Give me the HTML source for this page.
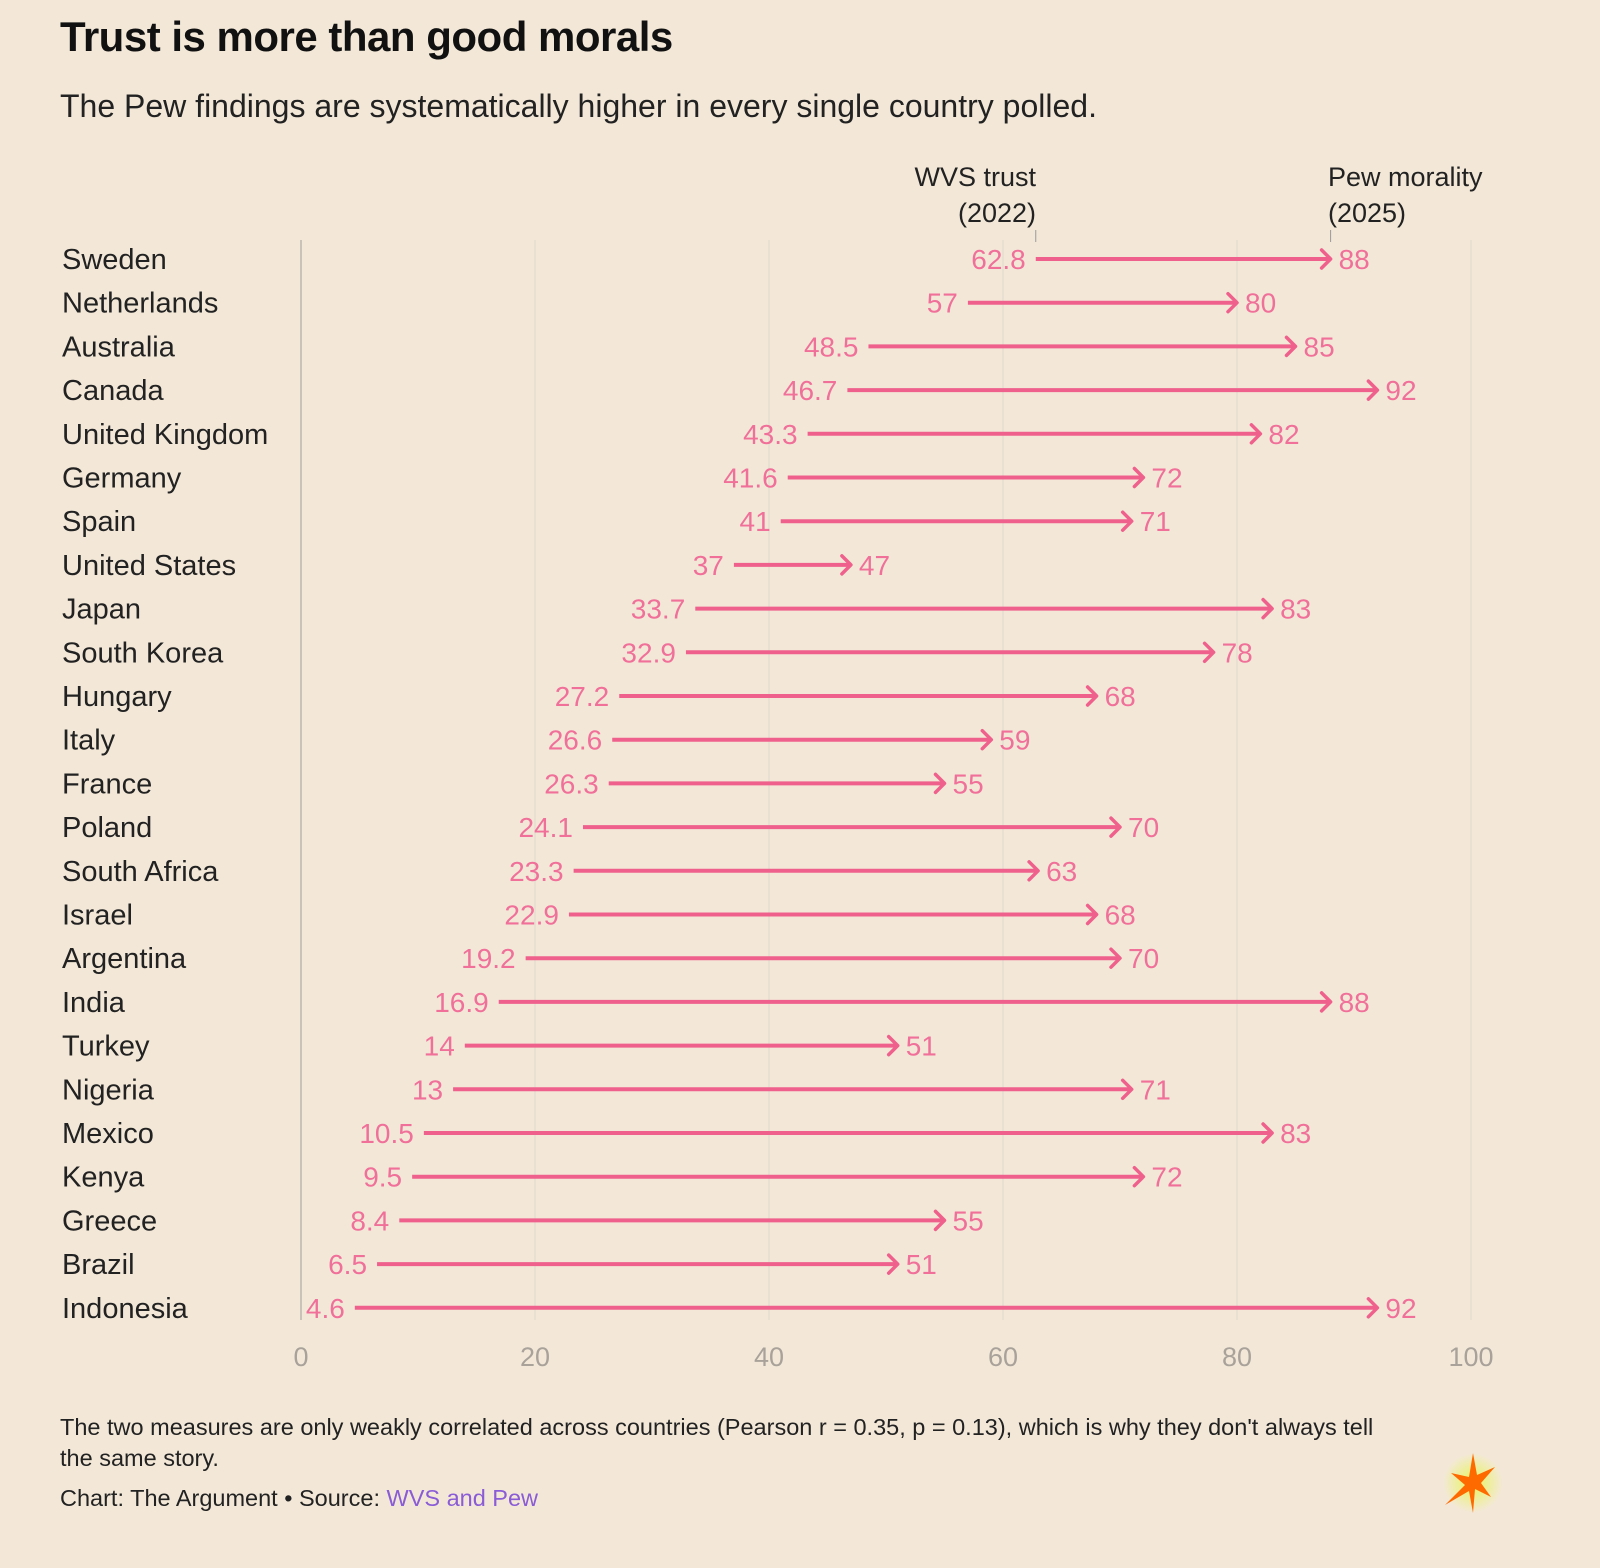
<!DOCTYPE html>
<html><head><meta charset="utf-8">
<style>
html,body{margin:0;padding:0;background:#f3e8d8;}
body{width:1600px;height:1568px;position:relative;overflow:hidden;font-family:"Liberation Sans",sans-serif;}
#title{position:absolute;left:60px;top:13px;font-size:42px;font-weight:bold;color:#111;letter-spacing:-0.5px;margin:0}
#subtitle{position:absolute;left:60px;top:88px;font-size:32px;color:#222;margin:0}
#foot{position:absolute;left:60px;top:1412px;width:1345px;font-size:23.5px;line-height:31px;color:#222}
#src{position:absolute;left:60px;top:1485px;font-size:23.5px;color:#222}
#src span{color:#8a5cd6}
svg{position:absolute;left:0;top:0}
</style></head><body>
<h1 id="title">Trust is more than good morals</h1>
<p id="subtitle">The Pew findings are systematically higher in every single country polled.</p>
<svg id="chart" width="1600" height="1568"></svg>
<div id="foot">The two measures are only weakly correlated across countries (Pearson r = 0.35, p = 0.13), which is why they don't always tell the same story.</div>
<div id="src">Chart: The Argument • Source: <span>WVS and Pew</span></div>
<svg width="80" height="80" style="left:1433px;top:1445px">
<defs><radialGradient id="g"><stop offset="0" stop-color="#e8f55a"/><stop offset="1" stop-color="#e8f55a" stop-opacity="0"/></radialGradient></defs>
<circle cx="40" cy="38" r="30" fill="url(#g)"/>
<polygon points="40,8 44,30 62,22 48,38 58,52 42,44 40,68 36,46 12,60 32,40 18,28 36,32" fill="#ff6a00"/>
</svg>
<script>
const countries=["Sweden","Netherlands","Australia","Canada","United Kingdom","Germany","Spain","United States","Japan","South Korea","Hungary","Italy","France","Poland","South Africa","Israel","Argentina","India","Turkey","Nigeria","Mexico","Kenya","Greece","Brazil","Indonesia"];
const wvs=[62.8,57,48.5,46.7,43.3,41.6,41,37,33.7,32.9,27.2,26.6,26.3,24.1,23.3,22.9,19.2,16.9,14,13,10.5,9.5,8.4,6.5,4.6];
const pew=[88,80,85,92,82,72,71,47,83,78,68,59,55,70,63,68,70,88,51,71,83,72,55,51,92];
const ticks=[0,20,40,60,80,100];
const svg=document.getElementById('chart');
const NS="http://www.w3.org/2000/svg";
const x=v=>301+v*11.7;
const y=i=>259+i*43.7;
function mk(t,a){const e=document.createElementNS(NS,t);for(const k in a)e.setAttribute(k,a[k]);svg.appendChild(e);return e;}
ticks.forEach(t=>{
  const l=mk('line',{x1:x(t),x2:x(t),y1:240,y2:1320,stroke:t===0?'#c8c2b8':'#e6ddd0','stroke-width':t===0?2:1.5});
  
  
  const tx=mk('text',{x:x(t),y:1366,'text-anchor':'middle','font-size':27,fill:'#a8a29a'});
  tx.textContent=t;
  
  
});
const h1=mk('text',{x:1036,y:186,'text-anchor':'end','font-size':27,fill:'#222'});h1.textContent='WVS trust';


const h2=mk('text',{x:1036,y:222,'text-anchor':'end','font-size':27,fill:'#222'});h2.textContent='(2022)';


const h3=mk('text',{x:1328,y:186,'font-size':27,fill:'#222'});h3.textContent='Pew morality';


const h4=mk('text',{x:1328,y:222,'font-size':27,fill:'#222'});h4.textContent='(2025)';


mk('line',{x1:x(wvs[0]),x2:x(wvs[0]),y1:230,y2:242,stroke:'#999','stroke-width':1});
mk('line',{x1:x(pew[0]),x2:x(pew[0]),y1:230,y2:242,stroke:'#999','stroke-width':1});
countries.forEach((c,i)=>{
  const yy=y(i);
  const lab=mk('text',{x:62,y:yy+10,'font-size':29,fill:'#222'});lab.textContent=c;
  
  
  const x1=x(wvs[i]),x2=x(pew[i]);
  const ln=mk('line',{x1:x1,x2:x2-2,y1:yy,y2:yy,stroke:'#f0608c','stroke-width':4});
  
  
  const hd=mk('polyline',{points:`${x2-9},${yy-9} ${x2},${yy} ${x2-9},${yy+9}`,fill:'none',stroke:'#f0608c','stroke-width':3.5,'stroke-linecap':'round','stroke-linejoin':'round'});
  
  
  const sv=mk('text',{x:x1-10,y:yy+10,'text-anchor':'end','font-size':28,fill:'#f0709a'});sv.textContent=wvs[i];
  
  
  const ev=mk('text',{x:x2+8,y:yy+10,'font-size':28,fill:'#f0709a'});ev.textContent=pew[i];
  
  
});
</script>
</body></html>
